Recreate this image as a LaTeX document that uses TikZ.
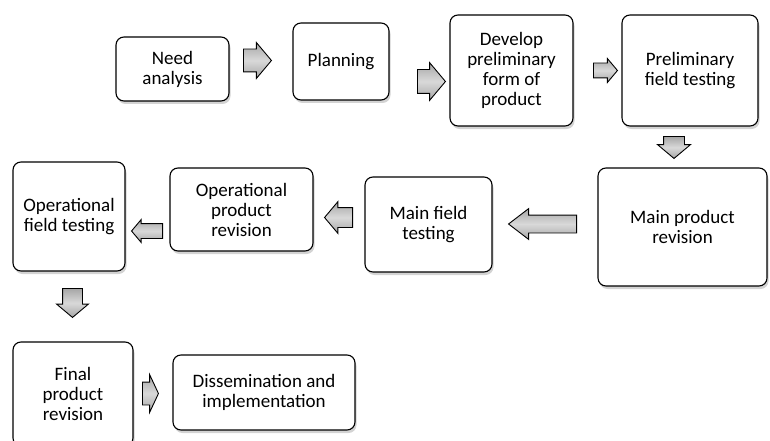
\documentclass[tikz,border=0pt]{standalone}
\usepackage{fontspec}
\setmainfont{Carlito}
\usetikzlibrary{
  shapes.arrows,
  shadows
}
\tikzset{
  box/.style={draw, line width=1.1pt, rounded corners=8pt, fill=white,
    align=center, inner sep=2pt, font=\fontsize{19}{20}\selectfont,
    drop shadow={shadow xshift=1.5pt, shadow yshift=-3pt, opacity=0.35, fill=gray}},
  blockarrow/.style 2 args={single arrow, draw, line width=0.9pt, anchor=tail,
    inner xsep=0pt, inner ysep=#1, single arrow head extend=#2,
    top color=gray!70, bottom color=gray!70, middle color=gray!30,
    single arrow tip angle=100}
}
\begin{document}
\begin{tikzpicture}[x=1pt, y=-1pt]
    \useasboundingbox (0,0) rectangle (770,441);
    % boxes
    \node[box, minimum width=113pt, minimum height=64pt] (need) at (172.5,69) {Need\\analysis};
    \node[box, minimum width=96pt, minimum height=77pt] (plan) at (341,61.5) {Planning};
    \node[box, minimum width=123pt, minimum height=111pt] (dev) at (511.5,70.5) {Develop\\preliminary\\form of\\product};
    \node[box, minimum width=136pt, minimum height=111pt] (pft) at (690,70.5) {Preliminary\\field testing};
    \node[box, minimum width=169pt, minimum height=118pt] (mpr) at (682.5,227) {Main product\\revision};
    \node[box, minimum width=127pt, minimum height=95pt] (mft) at (428.5,224.5) {Main field\\testing};
    \node[box, minimum width=143pt, minimum height=83pt] (opr) at (241.5,209.5) {Operational\\product\\revision};
    \node[box, minimum width=112pt, minimum height=109pt] (oft) at (69,216.5) {Operational\\field testing};
    \node[box, minimum width=120pt, minimum height=104pt] (fpr) at (73,394) {Final\\product\\revision};
    \node[box, minimum width=182pt, minimum height=75pt] (dis) at (264,392.5) {Dissemination and\\implementation};
    % arrows (placed by their tails)
    \node[blockarrow={11pt}{6.5pt}, minimum height=28pt] (a1) at (243,60.5) {};
    \node[blockarrow={11.5pt}{7pt}, minimum height=28pt] (a2) at (417,81.5) {};
    \node[blockarrow={7pt}{4.5pt}, minimum height=24pt] (a3) at (593,70.5) {};
    \node[blockarrow={10pt}{6pt}, rotate=-90, minimum height=22pt] (a4) at (674,136) {};
    \node[blockarrow={8.5pt}{6.5pt}, rotate=180, single arrow tip angle=75, minimum height=68pt] (a5) at (577,224) {};
    \node[blockarrow={9.5pt}{6pt}, rotate=180, minimum height=28pt] (a6) at (353,217.5) {};
    \node[blockarrow={7pt}{4pt}, rotate=180, minimum height=31pt] (a7) at (163,231) {};
    \node[blockarrow={9.5pt}{6pt}, rotate=-90, minimum height=29pt] (a8) at (72.5,288) {};
    \node[blockarrow={11pt}{7.5pt}, single arrow tip angle=130, minimum height=16pt] (a9) at (142,393.5) {};
\end{tikzpicture}
\end{document}
